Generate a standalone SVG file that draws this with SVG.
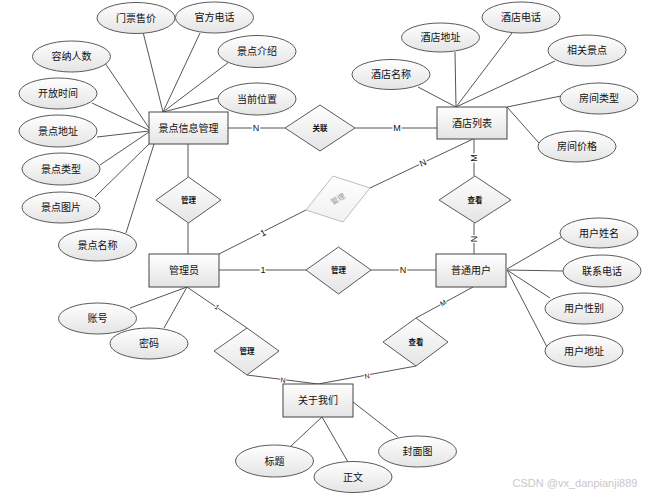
<svg xmlns="http://www.w3.org/2000/svg" width="654" height="497" viewBox="0 0 654 497">
<defs>
<linearGradient id="g" x1="0" y1="0" x2="0" y2="1"><stop offset="0" stop-color="#ffffff"/><stop offset="1" stop-color="#e4e4e4"/></linearGradient>
<linearGradient id="gf" x1="0" y1="0" x2="0" y2="1"><stop offset="0" stop-color="#ffffff"/><stop offset="1" stop-color="#f0f0f0"/></linearGradient>
<style>
text{font-family:"Liberation Sans","Noto Sans CJK SC",sans-serif;text-anchor:middle;fill:#111}
.t{font-size:10px}
.d{font-size:7.5px;font-weight:bold}
.c{font-size:9px;paint-order:stroke;stroke:#fff;stroke-width:3px}
.cs{font-size:7px;paint-order:stroke;stroke:#fff;stroke-width:2px}
.n rect,.n ellipse,.n polygon{fill:url(#g);stroke:#5a5a5a;stroke-width:1}
.n rect{stroke:#444}
line,polyline{stroke:#555;stroke-width:1;fill:none}
</style>
</defs>
<rect width="654" height="497" style="fill:#fff;stroke:none"/>

<g id="connectors">
<!-- 景点信息管理 attributes -->
<line x1="143" y1="32" x2="163" y2="112"/>
<line x1="200" y1="33" x2="163" y2="112"/>
<line x1="229" y1="62" x2="163" y2="112"/>
<line x1="218" y1="98" x2="163" y2="112"/>
<line x1="105" y1="63" x2="149" y2="128"/>
<line x1="92" y1="103" x2="149" y2="130"/>
<line x1="97" y1="137" x2="149" y2="131"/>
<line x1="100" y1="165" x2="149" y2="132"/>
<line x1="95" y1="197" x2="149" y2="144"/>
<line x1="126" y1="233" x2="154" y2="144"/>
<!-- 酒店列表 attributes -->
<line x1="418" y1="87" x2="456" y2="107"/>
<line x1="455" y1="52" x2="456" y2="107"/>
<line x1="512" y1="33" x2="456" y2="107"/>
<line x1="555" y1="61" x2="456" y2="107"/>
<line x1="561" y1="96" x2="507" y2="107"/>
<line x1="539" y1="143" x2="507" y2="107"/>
<!-- 普通用户 attributes -->
<line x1="507" y1="269" x2="562" y2="237"/>
<line x1="507" y1="270" x2="563" y2="271"/>
<line x1="507" y1="270" x2="550" y2="298"/>
<line x1="507" y1="270" x2="547" y2="347"/>
<!-- 管理员 attributes -->
<line x1="130" y1="308" x2="187" y2="287"/>
<line x1="164" y1="328" x2="187" y2="287"/>
<!-- 关于我们 attributes -->
<line x1="322" y1="417" x2="291" y2="446"/>
<line x1="322" y1="417" x2="348" y2="462"/>
<line x1="353" y1="402" x2="398" y2="437"/>
<!-- relationships -->
<line x1="228" y1="128" x2="285" y2="128"/>
<line x1="355" y1="128" x2="437" y2="128"/>
<line x1="188" y1="144" x2="188" y2="177"/>
<line x1="188" y1="223" x2="188" y2="254"/>
<line x1="474" y1="139" x2="474" y2="176"/>
<line x1="474" y1="223" x2="474" y2="254"/>
<line x1="219" y1="254" x2="306" y2="210"/>
<line x1="370" y1="188" x2="473" y2="139"/>
<line x1="219" y1="270" x2="306" y2="270"/>
<line x1="371" y1="270" x2="436" y2="270"/>
<line x1="187" y1="287" x2="247" y2="328"/>
<polyline points="247,375 318,384 416,366"/>
<line x1="473" y1="287" x2="416" y2="318"/>
<!-- cardinality labels -->
<text class="c" x="256" y="131">N</text>
<text class="c" x="397" y="131">M</text>
<text class="c" transform="translate(474,158) rotate(-90)" y="3">M</text>
<text class="c" transform="translate(474,239) rotate(-90)" y="3">N</text>
<text class="c" transform="translate(263,233) rotate(-27)" y="3">1</text>
<text class="c" transform="translate(423,163) rotate(-25)" y="3">N</text>
<text class="c" x="263" y="273">1</text>
<text class="c" x="403" y="273">N</text>
<text class="cs" transform="translate(217,307) rotate(34)" y="2.5">1</text>
<text class="cs" transform="translate(283,380) rotate(7)" y="2.5">N</text>
<text class="cs" transform="translate(367,376) rotate(-10)" y="2.5">N</text>
<text class="cs" transform="translate(443,303) rotate(-29)" y="2.5">M</text>
</g>

<g class="n">
<g id="e_jingdian"><rect x="149" y="112" width="79" height="32"/><text class="t" x="188.5" y="131.5">景点信息管理</text></g>
<g id="e_jiudian"><rect x="437" y="107" width="70" height="32"/><text class="t" x="472" y="126.5">酒店列表</text></g>
<g id="e_admin"><rect x="149" y="254" width="70" height="33"/><text class="t" x="184" y="274">管理员</text></g>
<g id="e_user"><rect x="436" y="254" width="70" height="33"/><text class="t" x="471" y="274">普通用户</text></g>
<g id="e_about"><rect x="283" y="384" width="70" height="33"/><text class="t" x="318" y="404">关于我们</text></g>

<g id="r_guanlian"><polygon points="285,128 320,105 355,128 320,151"/><text class="d" x="320" y="131">关联</text></g>
<g id="r_guanli1"><polygon points="156,200 188.5,177 221,200 188.5,223"/><text class="d" x="188.5" y="203">管理</text></g>
<g id="r_chakan1"><polygon points="439,200 475,176 511,200 475,223"/><text class="d" x="475" y="203">查看</text></g>
<g id="r_guanli2"><polygon points="306,270 338.5,247 371,270 338.5,294"/><text class="d" x="338.5" y="273">管理</text></g>
<g id="r_guanli_faded"><polygon points="333,176 370,188 343,222 306,210" style="fill:url(#gf);stroke:#bdbdbd"/><text class="d" style="fill:#999;font-weight:normal" transform="translate(338,199) rotate(-30)" y="2.5">管理</text></g>
<g id="r_guanli3"><polygon points="214,351 247,328 279,351 247,375"/><text class="d" x="247" y="354">管理</text></g>
<g id="r_chakan2"><polygon points="383,342 416,318 448,342 416,366"/><text class="d" x="416" y="345">查看</text></g>

<g id="a_menpiao"><ellipse cx="136" cy="18" rx="39" ry="15.5"/><text class="t" x="136" y="21.5">门票售价</text></g>
<g id="a_guanfang"><ellipse cx="214.5" cy="17.5" rx="39" ry="15.5"/><text class="t" x="214.5" y="21">官方电话</text></g>
<g id="a_jieshao"><ellipse cx="257" cy="51.5" rx="39" ry="16"/><text class="t" x="257" y="55">景点介绍</text></g>
<g id="a_weizhi"><ellipse cx="257" cy="99" rx="39" ry="16"/><text class="t" x="257" y="102.5">当前位置</text></g>
<g id="a_rongna"><ellipse cx="71.5" cy="56.5" rx="39" ry="15.5"/><text class="t" x="71.5" y="60">容纳人数</text></g>
<g id="a_kaifang"><ellipse cx="58" cy="93.5" rx="39" ry="15.5"/><text class="t" x="58" y="97">开放时间</text></g>
<g id="a_dizhi"><ellipse cx="58" cy="131" rx="39" ry="16"/><text class="t" x="58" y="134.5">景点地址</text></g>
<g id="a_leixing"><ellipse cx="61" cy="169" rx="39" ry="16"/><text class="t" x="61" y="172.5">景点类型</text></g>
<g id="a_tupian"><ellipse cx="61" cy="207.5" rx="39" ry="15.5"/><text class="t" x="61" y="211">景点图片</text></g>
<g id="a_mingcheng"><ellipse cx="97.5" cy="245" rx="39" ry="16"/><text class="t" x="97.5" y="248.5">景点名称</text></g>

<g id="a_jd_mingcheng"><ellipse cx="391" cy="74.5" rx="39" ry="15"/><text class="t" x="391" y="78">酒店名称</text></g>
<g id="a_jd_dizhi"><ellipse cx="440.5" cy="37.5" rx="39" ry="14.5"/><text class="t" x="440.5" y="41">酒店地址</text></g>
<g id="a_jd_dianhua"><ellipse cx="521" cy="17.5" rx="39" ry="15.5"/><text class="t" x="521" y="21">酒店电话</text></g>
<g id="a_xiangguan"><ellipse cx="587" cy="50.5" rx="39" ry="15.5"/><text class="t" x="587" y="54">相关景点</text></g>
<g id="a_fangjian_lx"><ellipse cx="599" cy="98.5" rx="39" ry="15.5"/><text class="t" x="599" y="102">房间类型</text></g>
<g id="a_fangjian_jg"><ellipse cx="577" cy="146.5" rx="39" ry="15.5"/><text class="t" x="577" y="150">房间价格</text></g>

<g id="a_xingming"><ellipse cx="599" cy="233" rx="39" ry="15"/><text class="t" x="599" y="236.5">用户姓名</text></g>
<g id="a_dianhua"><ellipse cx="602" cy="271" rx="39" ry="16"/><text class="t" x="602" y="274.5">联系电话</text></g>
<g id="a_xingbie"><ellipse cx="584" cy="308.5" rx="39" ry="15.5"/><text class="t" x="584" y="312">用户性别</text></g>
<g id="a_yhdizhi"><ellipse cx="584" cy="351" rx="39" ry="16"/><text class="t" x="584" y="354.5">用户地址</text></g>

<g id="a_zhanghao"><ellipse cx="97.5" cy="318.5" rx="39" ry="15.5"/><text class="t" x="97.5" y="322">账号</text></g>
<g id="a_mima"><ellipse cx="149" cy="343.5" rx="39" ry="15.5"/><text class="t" x="149" y="347">密码</text></g>

<g id="a_biaoti"><ellipse cx="274.5" cy="461" rx="39" ry="16"/><text class="t" x="274.5" y="464.5">标题</text></g>
<g id="a_zhengwen"><ellipse cx="353" cy="477" rx="39" ry="15.5"/><text class="t" x="353" y="480.5">正文</text></g>
<g id="a_fengmian"><ellipse cx="417.5" cy="451.5" rx="39" ry="15.5"/><text class="t" x="417.5" y="455">封面图</text></g>
</g>

<text x="575" y="487" style="font-size:11px;fill:#c8c8c8">CSDN @vx_danpianji889</text>
</svg>
